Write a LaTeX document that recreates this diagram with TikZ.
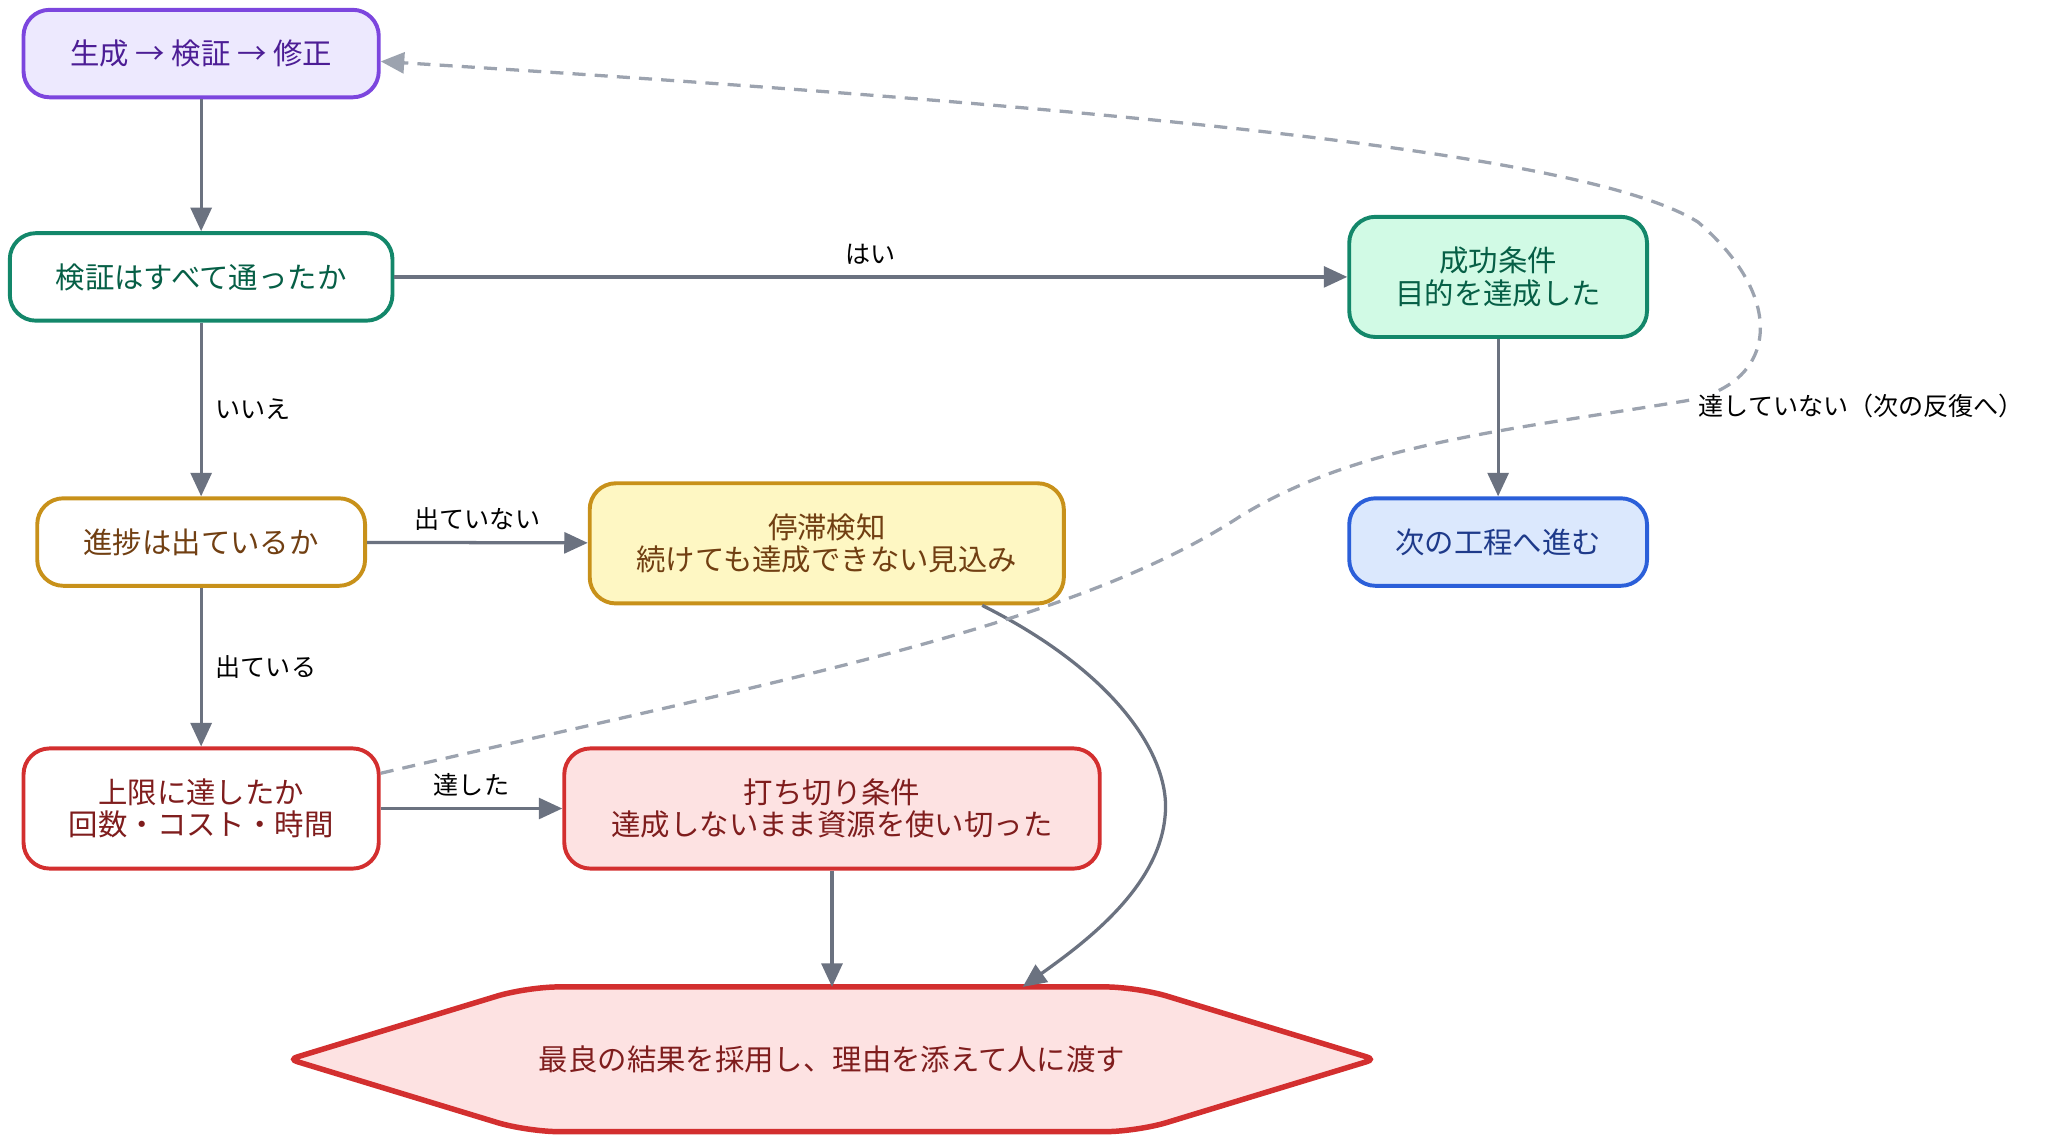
\documentclass[tikz,border=0pt]{standalone}
\usepackage{fontspec}
\setmainfont{Noto Sans CJK JP}
\usetikzlibrary{arrows.meta,calc,backgrounds}
\definecolor{cgray}{HTML}{6B7280}
\definecolor{dgray}{HTML}{9CA3AF}
\definecolor{pborder}{HTML}{7C46DE}
\definecolor{pfill}{HTML}{EDE9FE}
\definecolor{ptext}{HTML}{4C1D95}
\definecolor{gborder}{HTML}{13876A}
\definecolor{gfill}{HTML}{D1FAE5}
\definecolor{gtext}{HTML}{065F46}
\definecolor{aborder}{HTML}{C8911A}
\definecolor{afill}{HTML}{FEF7C3}
\definecolor{atext}{HTML}{713F12}
\definecolor{bborder}{HTML}{2B5FD9}
\definecolor{bfill}{HTML}{DBE8FD}
\definecolor{btext}{HTML}{1E3A8A}
\definecolor{rborder}{HTML}{D32F2F}
\definecolor{rfill}{HTML}{FDE2E2}
\definecolor{rtext}{HTML}{7F1D1D}
\begin{document}
\begin{tikzpicture}[x=0.5pt,y=-0.5pt,
  box/.style={rounded corners=10pt, line width=1.5pt, align=center, inner sep=0pt,
    font=\fontsize{11.25}{12.5}\selectfont},
  conn/.style={draw=cgray, line width=1.25pt, -{Triangle[length=9pt,width=8pt]}},
  dconn/.style={draw=dgray, line width=1.25pt, dash pattern=on 5pt off 3.5pt,
    -{Triangle[length=9pt,width=8pt,fill=dgray]}},
  lbl/.style={font=\fontsize{9.6}{11}\selectfont, text=black, inner sep=1pt}]
\useasboundingbox (0,0) rectangle (1568,874);

\node[box, draw=pborder, fill=pfill, text=ptext, minimum width=136pt, minimum height=33.5pt] (n1) at (154,41) {生成 → 検証 → 修正};
\node[box, draw=gborder, fill=white, text=gtext, minimum width=146.5pt, minimum height=33.5pt] (n2) at (154,212) {検証はすべて通ったか};
\node[box, draw=gborder, fill=gfill, text=gtext, minimum width=114pt, minimum height=46pt] (n3) at (1147,212) {成功条件\\目的を達成した};
\node[box, draw=aborder, fill=white, text=atext, minimum width=125.5pt, minimum height=33.5pt] (n4) at (154,415) {進捗は出ているか};
\node[box, draw=aborder, fill=afill, text=atext, minimum width=181.5pt, minimum height=46pt] (n5) at (633,416) {停滞検知\\続けても達成できない見込み};
\node[box, draw=bborder, fill=bfill, text=btext, minimum width=114pt, minimum height=33.5pt] (n6) at (1147,415) {次の工程へ進む};
\node[box, draw=rborder, fill=white, text=rtext, minimum width=136pt, minimum height=46pt] (n7) at (154,619) {上限に達したか\\回数・コスト・時間};
\node[box, draw=rborder, fill=rfill, text=rtext, minimum width=205pt, minimum height=46pt] (n8) at (637,619) {打ち切り条件\\達成しないまま資源を使い切った};
\node[inner sep=0pt, minimum width=415pt, minimum height=55pt, text=rtext,
  font=\fontsize{11.25}{12.5}\selectfont] (n9) at (637,811) {最良の結果を採用し、理由を添えて人に渡す};
\begin{scope}[on background layer]
\draw[draw=rborder, fill=rfill, line width=2.1pt, rounded corners=3pt]
  (n9.west) [rounded corners=12pt] -- ($(n9.north west)+(182,0)$) -- ($(n9.north east)+(-182,0)$) [rounded corners=3pt] -- (n9.east)
  [rounded corners=12pt] -- ($(n9.south east)+(-182,0)$) -- ($(n9.south west)+(182,0)$) [rounded corners=3pt] -- cycle;
\end{scope}

\draw[conn] (n1) -- (n2);
\draw[conn] (n2) -- node[lbl, above=3pt] (l1) {はい} (n3);
\draw[conn] (n2) -- node[lbl, right=4pt] (l2) {いいえ} (n4);
\draw[conn] (n4) -- node[lbl, above=3pt] (l3) {出ていない} (n5);
\draw[conn] (n4) -- node[lbl, right=4pt] (l4) {出ている} (n7);
\draw[conn] (n7) -- node[lbl, above=3pt] (l5) {達した} (n8);
\draw[conn] (n3) -- (n6);
\draw[conn] (n8) -- (n9.north);
\draw[conn] ($(n5.south)+(119,0)$) .. controls (855,515) and (897,580) .. (892,625)
  .. controls (887,680) and (830,722) .. ($(n9.north)+(146,0)$);
\draw[dconn] ($(n7.east)+(0,-27)$) .. controls (600,520) and (820,480) .. (950,395)
  .. controls (1040,340) and (1150,330) .. (1290,307)
  .. controls (1360,295) and (1370,230) .. (1300,170)
  .. controls (1220,120) and (900,85) .. ($(n1.east)+(0,6)$);
\node[lbl, fill=white] (l6) at (1425,311) {達していない（次の反復へ）};
\end{tikzpicture}
\end{document}
